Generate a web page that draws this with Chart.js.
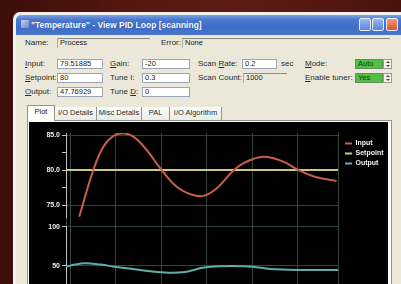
<!DOCTYPE html>
<html><head><meta charset="utf-8">
<script src="https://cdn.jsdelivr.net/npm/chart.js@4.4.1/dist/chart.umd.min.js"></script>
<style>
html,body{margin:0;padding:0;width:401px;height:284px;overflow:hidden;}
body{position:relative;background:linear-gradient(90deg,#3c0e0a 0%,#561811 35%,#5e1c15 60%,#4a130e 100%);font-family:"Liberation Sans",Arial,sans-serif;}
.abs{position:absolute;}
.frame{left:13px;top:12px;width:400px;height:300px;background:#f1f1ec;border-radius:7px 7px 0 0;}
.title{left:16px;top:15px;width:390px;height:20px;border-radius:5px 5px 0 0;background:linear-gradient(180deg,#7ea2e6 0%,#4d7ad0 22%,#3f6cc6 60%,#4a76cc 100%);}
.ttext{left:31px;top:20px;color:#fff;font:bold 8.5px "Liberation Sans",Arial,sans-serif;white-space:nowrap;text-shadow:0 0 1px #1a3a80;}
.icon{left:21px;top:20px;width:8px;height:8px;background:linear-gradient(135deg,#c8d4f0,#6a86c8);border-radius:1px;}
.btn{top:18px;width:12px;height:13px;border:1px solid #e8eefa;border-radius:2px;box-sizing:border-box;background:linear-gradient(180deg,#9ab8f0,#5a86dc);}
.close{background:linear-gradient(180deg,#f09a70,#d8562c);}
.body{left:16px;top:35px;width:390px;height:260px;background:#ebe8d9;}
.l{position:absolute;font:8px "Liberation Sans",Arial,sans-serif;color:#2a2a2a;line-height:10px;white-space:nowrap;}
.f{position:absolute;height:10px;box-sizing:border-box;background:#fff;border:1px solid #9aa6b8;font:7.5px "Liberation Sans",Arial,sans-serif;line-height:8px;padding-left:2px;color:#1a1a1a;white-space:nowrap;overflow:hidden;}
.d{background:#ebe8d9;border:none;border-top:1px solid #8c8c86;border-left:1px solid #b0aea4;}
.g{background:#4fc044;border:1px solid #6a8a60;color:#143a10;}
.sp{position:absolute;width:9px;height:10px;box-sizing:border-box;background:#f4f2ea;border:1px solid #9a9a90;}
.sp:before{content:"";position:absolute;left:2px;top:1px;border:2px solid transparent;border-bottom:2px solid #444;border-top:none;}
.sp:after{content:"";position:absolute;left:2px;top:5px;border:2px solid transparent;border-top:2px solid #444;border-bottom:none;}
.tab{position:absolute;top:107px;height:13px;box-sizing:border-box;border-right:1px solid #8e9494;font:7.5px "Liberation Sans",Arial,sans-serif;line-height:12px;color:#2a2a2a;text-align:center;background:linear-gradient(180deg,#fbfbf8,#ecebe4);white-space:nowrap;}
.tabsel{top:105px;height:16px;background:#fcfcfa;border:1px solid #8e9494;border-bottom:none;}
.panel{left:27px;top:120px;width:365px;height:200px;background:#fbfbf8;border:1px solid #8e9494;box-sizing:border-box;}
.plot{left:29px;top:122px;width:359px;height:190px;background:#000;}
</style></head>
<body>
<div class="abs frame"></div>
<div class="abs title"></div>
<div class="abs icon"></div>
<div class="abs ttext">"Temperature" - View PID Loop [scanning]</div>
<div class="abs btn" style="left:359px"></div>
<div class="abs btn" style="left:372px"></div>
<div class="abs btn close" style="left:386px"></div>
<div class="abs body"></div>

<div class="l" style="left:25px;top:38px">Name:</div>
<div class="f d" style="left:57px;top:38px;width:93px">Process</div>
<div class="l" style="left:161px;top:38px">Error:</div>
<div class="f d" style="left:182px;top:38px;width:208px">None</div>

<div class="l" style="left:25px;top:59px"><u>I</u>nput:</div>
<div class="f" style="left:57px;top:59px;width:46px">79.51885</div>
<div class="l" style="left:110px;top:59px"><u>G</u>ain:</div>
<div class="f" style="left:142px;top:59px;width:48px">-20</div>
<div class="l" style="left:198px;top:59px">Scan <u>R</u>ate:</div>
<div class="f" style="left:242px;top:59px;width:35px">0.2</div>
<div class="l" style="left:281px;top:59px">sec</div>
<div class="l" style="left:305px;top:59px"><u>M</u>ode:</div>
<div class="f g" style="left:355px;top:59px;width:28px">Auto</div>
<div class="sp" style="left:383px;top:59px"></div>

<div class="l" style="left:25px;top:73px"><u>S</u>etpoint:</div>
<div class="f" style="left:57px;top:73px;width:46px">80</div>
<div class="l" style="left:110px;top:73px">Tune I:</div>
<div class="f" style="left:142px;top:73px;width:48px">0.3</div>
<div class="l" style="left:198px;top:73px">Scan Count:</div>
<div class="f d" style="left:243px;top:73px;width:44px">1000</div>
<div class="l" style="left:305px;top:73px"><u>E</u>nable tuner:</div>
<div class="f g" style="left:355px;top:73px;width:28px">Yes</div>
<div class="sp" style="left:383px;top:73px"></div>

<div class="l" style="left:25px;top:87px"><u>O</u>utput:</div>
<div class="f" style="left:57px;top:87px;width:46px">47.76929</div>
<div class="l" style="left:110px;top:87px">Tune <u>D</u>:</div>
<div class="f" style="left:142px;top:87px;width:48px">0</div>

<div class="abs panel"></div>
<div class="tab tabsel" style="left:27px;width:28px">Plot</div>
<div class="tab" style="left:55px;width:42px">I/O Details</div>
<div class="tab" style="left:97px;width:45px">Misc Details</div>
<div class="tab" style="left:142px;width:28px">PAL</div>
<div class="tab" style="left:170px;width:52px">I/O Algorithm</div>

<div class="abs plot"><canvas id="c" width="359" height="190"></canvas></div>

<script>
// ---- data ----
const inputTimes  = [2.0, 5.1, 7.3, 9.5, 11.7, 13.9, 16.8, 20.1, 23.4, 26.6, 29.3, 32.2, 35.8, 38.0, 42.4, 46.8, 50.1, 54.1, 58.5];
const inputValues = [73.33, 80.0, 83.33, 84.86, 85.24, 84.76, 82.86, 80.0, 77.6, 76.5, 76.3, 77.4, 79.9, 80.96, 81.9, 81.19, 80.0, 78.96, 78.43];
const setpointTimes  = [-0.9, 58.8];
const setpointValues = [80, 80];
const outputTimes  = [-0.9, 1.1, 3.3, 6.6, 10.2, 15.4, 20.8, 25.2, 28.5, 30.3, 35.1, 40.1, 43.9, 50.4, 58.8];
const outputValues = [48.7, 51.5, 53.1, 51.5, 48.3, 44.5, 41.3, 41.9, 46.7, 48.3, 49.6, 48.7, 45.8, 44.5, 44.5];
const timeTicks = [-0.9, 0, 10, 20, 30, 40, 50, 58.8];
const inputTicks = [75, 77.5, 80, 82.5, 85];
const inputLabelTicks = [75, 80, 85];
const outputTicks = [0, 50, 100];
const seriesNames = ['Input', 'Setpoint', 'Output'];

const toPts = (ts, vs) => ts.map((t, i) => ({x: t, y: vs[i]}));
const gridColor = '#2f4738';
const axisColor = '#c4c4c4';
const tickFont = {family: 'Liberation Sans', size: 7, weight: 'bold'};

new Chart(document.getElementById('c'), {
  type: 'line',
  data: {
    datasets: [
      {label: seriesNames[0], data: toPts(inputTimes, inputValues), yAxisID: 'yIn', borderColor: '#c95f4b', backgroundColor: '#c95f4b', borderWidth: 2, pointRadius: 0, tension: 0.4},
      {label: seriesNames[1], data: toPts(setpointTimes, setpointValues), yAxisID: 'yIn', borderColor: '#cdc688', backgroundColor: '#cdc688', borderWidth: 2, pointRadius: 0, tension: 0},
      {label: seriesNames[2], data: toPts(outputTimes, outputValues), yAxisID: 'yOut', borderColor: '#5cb0aa', backgroundColor: '#5cb0aa', borderWidth: 2, pointRadius: 0, tension: 0.4}
    ]
  },
  options: {
    responsive: false, animation: false, devicePixelRatio: 1,
    layout: {padding: {top: 11, right: 0, bottom: 7.3, left: 0}},
    plugins: {
      tooltip: {enabled: false},
      legend: {
        position: 'right', align: 'start', maxWidth: 46,
        title: {display: true, text: '', padding: 0, font: {size: 4, lineHeight: 1}},
        labels: {
          color: '#f2f2f2', font: tickFont, boxWidth: 7, boxHeight: 2, padding: 3,
          generateLabels: (chart) => Chart.defaults.plugins.legend.labels.generateLabels(chart).map(l => Object.assign(l, {lineWidth: 0}))
        }
      }
    },
    scales: {
      x: {
        type: 'linear', min: timeTicks[0], max: timeTicks[timeTicks.length - 1],
        afterBuildTicks: s => { s.ticks = timeTicks.map(v => ({value: v})); },
        afterFit: s => { s.height = 0; },
        ticks: {display: false},
        grid: {color: gridColor, drawTicks: false},
        border: {display: false}
      },
      yIn: {
        type: 'linear', position: 'left', stack: 'left', stackWeight: 84, weight: 3,
        min: 73.286, max: 85.286,
        afterBuildTicks: s => { s.ticks = inputTicks.map(v => ({value: v})); },
        afterFit: s => { s.width = 37; },
        ticks: {color: '#f0f0f0', font: tickFont, padding: 2, autoSkip: false,
          callback: v => inputLabelTicks.includes(v) ? v.toFixed(1) : ''},
        grid: {color: c => (c.tick && inputLabelTicks.includes(c.tick.value)) ? gridColor : 'rgba(0,0,0,0)', tickColor: axisColor, tickLength: 4},
        border: {color: axisColor, width: 1}
      },
      yGap: {
        type: 'linear', position: 'left', stack: 'left', stackWeight: 9.7, weight: 2,
        afterFit: s => { s.width = 37; },
        ticks: {display: false}, grid: {display: false}, border: {display: false}
      },
      yOut: {
        type: 'linear', position: 'left', stack: 'left', stackWeight: 78, weight: 1,
        min: outputTicks[0], max: outputTicks[outputTicks.length - 1],
        afterBuildTicks: s => { s.ticks = outputTicks.map(v => ({value: v})); },
        afterFit: s => { s.width = 37; },
        ticks: {color: '#f0f0f0', font: tickFont, padding: 2, autoSkip: false, callback: v => String(v)},
        grid: {color: gridColor, tickColor: axisColor, tickLength: 4},
        border: {color: axisColor, width: 1}
      },
      yR: {
        type: 'linear', position: 'right',
        afterFit: s => { s.width = 4; },
        ticks: {display: false}, grid: {display: false}, border: {display: false}
      }
    }
  }
});
</script>
</body></html>
